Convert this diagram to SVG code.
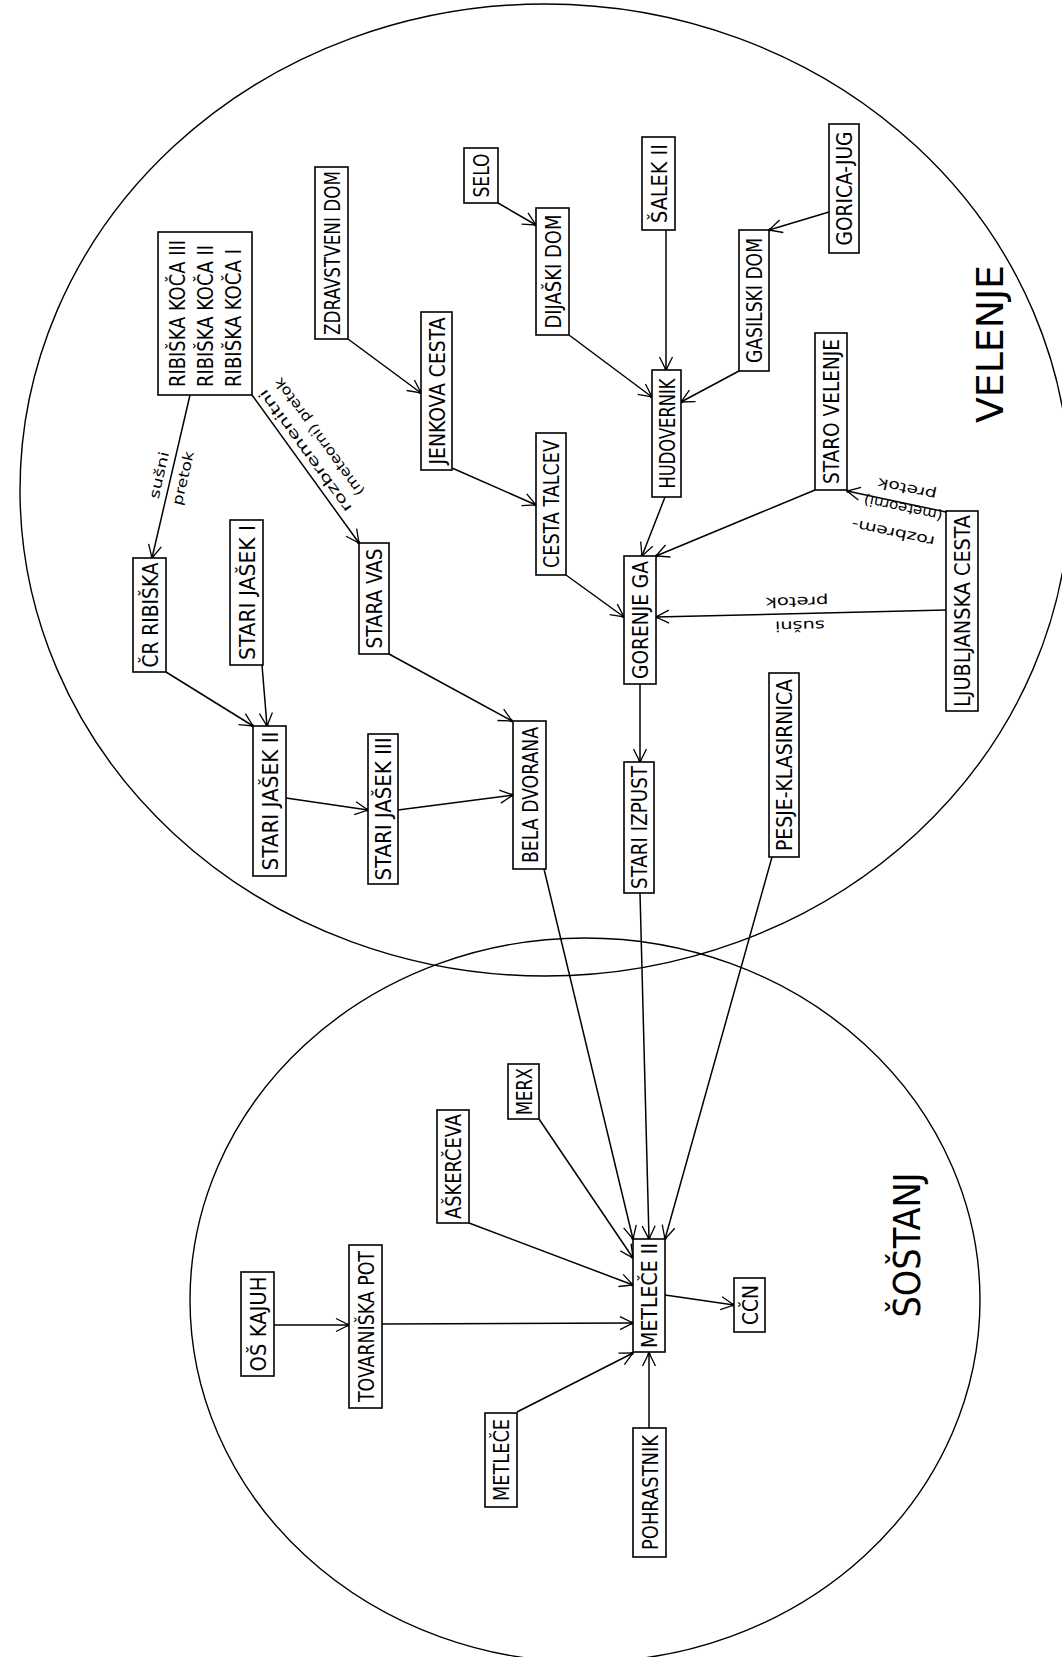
<svg xmlns="http://www.w3.org/2000/svg" width="1062" height="1657" viewBox="0 0 1062 1657">
<style>
.bg{fill:#fff}
.reg{fill:none;stroke:#000;stroke-width:1.4}
.box{fill:#fff;stroke:#000;stroke-width:1.6}
.t{font-family:"DejaVu Sans Condensed","Liberation Sans Narrow","Liberation Sans",sans-serif;font-size:21px;fill:#000}
.big{font-family:"DejaVu Sans Condensed","Liberation Sans Narrow","Liberation Sans",sans-serif;font-size:38px;fill:#000}
.s{font-family:"DejaVu Sans Condensed","Liberation Sans Narrow","Liberation Sans",sans-serif;font-size:14px;fill:#000}
.e{fill:none;stroke:#000;stroke-width:1.5;marker-end:url(#arr)}
</style>
<defs>
<marker id="arr" viewBox="-16 -9 18 18" refX="0" refY="0" markerWidth="18" markerHeight="18" orient="auto" markerUnits="userSpaceOnUse">
<path d="M-13,-6.5 L0,0 L-13,6.5" fill="none" stroke="#000" stroke-width="1.3"/>
<circle cx="-1" cy="0" r="1.6" fill="#000"/>
</marker>
</defs>
<rect class="bg" x="0" y="0" width="1062" height="1657"/>
<g id="regions">
<ellipse id="velenje-area" class="reg" cx="545" cy="490" rx="525" ry="486"/>
<ellipse id="sostanj-area" class="reg" cx="585" cy="1300" rx="395" ry="362"/>
<text class="big" transform="translate(1003,344) rotate(-90)" text-anchor="middle" textLength="158" lengthAdjust="spacingAndGlyphs">VELENJE</text>
<text class="big" transform="translate(920,1245) rotate(-90)" text-anchor="middle" textLength="145" lengthAdjust="spacingAndGlyphs">ŠOŠTANJ</text>
</g>
<g id="connectors">
<line class="e" x1="190" y1="395" x2="152" y2="558"/>
<line class="e" x1="252" y1="395" x2="359" y2="543"/>
<line class="e" x1="348" y1="339" x2="421" y2="393"/>
<line class="e" x1="452" y1="468" x2="536" y2="505"/>
<line class="e" x1="498" y1="203" x2="536" y2="225"/>
<line class="e" x1="569" y1="335" x2="652" y2="397"/>
<line class="e" x1="666" y1="230" x2="666" y2="370"/>
<line class="e" x1="739" y1="371" x2="681" y2="402"/>
<line class="e" x1="829" y1="212" x2="769" y2="230"/>
<line class="e" x1="665" y1="497" x2="642" y2="556"/>
<line class="e" x1="566" y1="575" x2="624" y2="617"/>
<line class="e" x1="815" y1="490" x2="656" y2="556"/>
<line class="e" x1="946" y1="610" x2="656" y2="617"/>
<line class="e" x1="946" y1="512" x2="847" y2="491"/>
<line class="e" x1="640" y1="684" x2="640" y2="762"/>
<line class="e" x1="166" y1="672" x2="253" y2="726"/>
<line class="e" x1="262" y1="665" x2="267" y2="726"/>
<line class="e" x1="286" y1="798" x2="368" y2="810"/>
<line class="e" x1="398" y1="810" x2="513" y2="795"/>
<line class="e" x1="389" y1="654" x2="512" y2="721"/>
<line class="e" x1="544" y1="869" x2="633" y2="1239"/>
<line class="e" x1="640" y1="893" x2="649" y2="1239"/>
<line class="e" x1="772" y1="857" x2="665" y2="1239"/>
<line class="e" x1="539" y1="1119" x2="633" y2="1258"/>
<line class="e" x1="469" y1="1223" x2="633" y2="1285"/>
<line class="e" x1="382" y1="1324" x2="633" y2="1323"/>
<line class="e" x1="274" y1="1325" x2="349" y2="1325"/>
<line class="e" x1="517" y1="1412" x2="633" y2="1353"/>
<line class="e" x1="649" y1="1428" x2="649" y2="1353"/>
<line class="e" x1="665" y1="1295" x2="734" y2="1305"/>
<text class="s" transform="translate(159,475) rotate(-77)" text-anchor="middle" dy="0.35em" textLength="48" lengthAdjust="spacingAndGlyphs">sušni</text>
<text class="s" transform="translate(183,478) rotate(-77)" text-anchor="middle" dy="0.35em" textLength="55" lengthAdjust="spacingAndGlyphs">pretok</text>
<text class="s" transform="translate(305,451) rotate(-126)" text-anchor="middle" dy="0.35em" textLength="148" lengthAdjust="spacingAndGlyphs">rozbremenitni</text>
<text class="s" transform="translate(319,437) rotate(-126)" text-anchor="middle" dy="0.35em" textLength="142" lengthAdjust="spacingAndGlyphs">(meteorni) pretok</text>
<text class="s" transform="translate(907,489) rotate(-168)" text-anchor="middle" dy="0.35em" textLength="60" lengthAdjust="spacingAndGlyphs">pretok</text>
<text class="s" transform="translate(903,508) rotate(-168)" text-anchor="middle" dy="0.35em" textLength="80" lengthAdjust="spacingAndGlyphs">(meteorni)</text>
<text class="s" transform="translate(893,533) rotate(-168)" text-anchor="middle" dy="0.35em" textLength="85" lengthAdjust="spacingAndGlyphs">rozbrem-</text>
<text class="s" transform="translate(797,602) rotate(178.6)" text-anchor="middle" dy="0.35em" textLength="63" lengthAdjust="spacingAndGlyphs">pretok</text>
<text class="s" transform="translate(800,626) rotate(178.6)" text-anchor="middle" dy="0.35em" textLength="50" lengthAdjust="spacingAndGlyphs">sušni</text>
</g>
<g id="n-ribiska-koca"><rect class="box" x="158" y="232" width="94" height="163"/>
<text class="t" transform="translate(185,387) rotate(-90)" textLength="147" lengthAdjust="spacingAndGlyphs">RIBIŠKA KOČA III</text>
<text class="t" transform="translate(213,387) rotate(-90)" textLength="142" lengthAdjust="spacingAndGlyphs">RIBIŠKA KOČA II</text>
<text class="t" transform="translate(241,387) rotate(-90)" textLength="138" lengthAdjust="spacingAndGlyphs">RIBIŠKA KOČA I</text></g>
<g id="n-zdravstveni-dom"><rect class="box" x="315" y="167" width="33" height="172"/><text class="t" transform="translate(339.5,253) rotate(-90)" text-anchor="middle" textLength="164" lengthAdjust="spacingAndGlyphs">ZDRAVSTVENI DOM</text></g>
<g id="n-jenkova-cesta"><rect class="box" x="421" y="312" width="31" height="158"/><text class="t" transform="translate(444.5,391) rotate(-90)" text-anchor="middle" textLength="147" lengthAdjust="spacingAndGlyphs">JENKOVA CESTA</text></g>
<g id="n-selo"><rect class="box" x="464" y="148" width="34" height="55"/><text class="t" transform="translate(489,175.5) rotate(-90)" text-anchor="middle" textLength="44" lengthAdjust="spacingAndGlyphs">SELO</text></g>
<g id="n-dijaski-dom"><rect class="box" x="536" y="208" width="33" height="127"/><text class="t" transform="translate(560.5,271.5) rotate(-90)" text-anchor="middle" textLength="114" lengthAdjust="spacingAndGlyphs">DIJAŠKI DOM</text></g>
<g id="n-salek-ii"><rect class="box" x="642" y="137" width="33" height="93"/><text class="t" transform="translate(666.5,183.5) rotate(-90)" text-anchor="middle" textLength="79" lengthAdjust="spacingAndGlyphs">ŠALEK II</text></g>
<g id="n-hudovernik"><rect class="box" x="652" y="370" width="29" height="127"/><text class="t" transform="translate(674.5,433.5) rotate(-90)" text-anchor="middle" textLength="110" lengthAdjust="spacingAndGlyphs">HUDOVERNIK</text></g>
<g id="n-cesta-talcev"><rect class="box" x="536" y="433" width="30" height="142"/><text class="t" transform="translate(559,504) rotate(-90)" text-anchor="middle" textLength="128" lengthAdjust="spacingAndGlyphs">CESTA TALCEV</text></g>
<g id="n-gorica-jug"><rect class="box" x="829" y="124" width="30" height="129"/><text class="t" transform="translate(852,188.5) rotate(-90)" text-anchor="middle" textLength="114" lengthAdjust="spacingAndGlyphs">GORICA-JUG</text></g>
<g id="n-gasilski-dom"><rect class="box" x="739" y="230" width="30" height="141"/><text class="t" transform="translate(762,300.5) rotate(-90)" text-anchor="middle" textLength="125" lengthAdjust="spacingAndGlyphs">GASILSKI DOM</text></g>
<g id="n-staro-velenje"><rect class="box" x="815" y="333" width="32" height="157"/><text class="t" transform="translate(839,411.5) rotate(-90)" text-anchor="middle" textLength="145" lengthAdjust="spacingAndGlyphs">STARO VELENJE</text></g>
<g id="n-cr-ribiska"><rect class="box" x="133" y="558" width="33" height="114"/><text class="t" transform="translate(157.5,615) rotate(-90)" text-anchor="middle" textLength="105" lengthAdjust="spacingAndGlyphs">ČR RIBIŠKA</text></g>
<g id="n-stari-jasek-i"><rect class="box" x="230" y="520" width="33" height="145"/><text class="t" transform="translate(254.5,592.5) rotate(-90)" text-anchor="middle" textLength="135" lengthAdjust="spacingAndGlyphs">STARI JAŠEK I</text></g>
<g id="n-stara-vas"><rect class="box" x="359" y="543" width="30" height="111"/><text class="t" transform="translate(382,598.5) rotate(-90)" text-anchor="middle" textLength="100" lengthAdjust="spacingAndGlyphs">STARA VAS</text></g>
<g id="n-stari-jasek-ii"><rect class="box" x="253" y="726" width="33" height="150"/><text class="t" transform="translate(277.5,801) rotate(-90)" text-anchor="middle" textLength="139" lengthAdjust="spacingAndGlyphs">STARI JAŠEK II</text></g>
<g id="n-stari-jasek-iii"><rect class="box" x="368" y="734" width="30" height="150"/><text class="t" transform="translate(391,809) rotate(-90)" text-anchor="middle" textLength="143" lengthAdjust="spacingAndGlyphs">STARI JAŠEK III</text></g>
<g id="n-gorenje-ga"><rect class="box" x="624" y="556" width="32" height="128"/><text class="t" transform="translate(648,620) rotate(-90)" text-anchor="middle" textLength="118" lengthAdjust="spacingAndGlyphs">GORENJE GA</text></g>
<g id="n-bela-dvorana"><rect class="box" x="513" y="721" width="33" height="148"/><text class="t" transform="translate(537.5,795) rotate(-90)" text-anchor="middle" textLength="136" lengthAdjust="spacingAndGlyphs">BELA DVORANA</text></g>
<g id="n-stari-izpust"><rect class="box" x="624" y="762" width="30" height="131"/><text class="t" transform="translate(647,827.5) rotate(-90)" text-anchor="middle" textLength="123" lengthAdjust="spacingAndGlyphs">STARI IZPUST</text></g>
<g id="n-pesje-klasirnica"><rect class="box" x="769" y="673" width="30" height="184"/><text class="t" transform="translate(792,765) rotate(-90)" text-anchor="middle" textLength="172" lengthAdjust="spacingAndGlyphs">PESJE-KLASIRNICA</text></g>
<g id="n-ljubljanska-cesta"><rect class="box" x="946" y="511" width="32" height="200"/><text class="t" transform="translate(970,611) rotate(-90)" text-anchor="middle" textLength="192" lengthAdjust="spacingAndGlyphs">LJUBLJANSKA CESTA</text></g>
<g id="n-askerceva"><rect class="box" x="437" y="1110" width="32" height="113"/><text class="t" transform="translate(461,1166.5) rotate(-90)" text-anchor="middle" textLength="105" lengthAdjust="spacingAndGlyphs">AŠKERČEVA</text></g>
<g id="n-os-kajuh"><rect class="box" x="241" y="1272" width="33" height="104"/><text class="t" transform="translate(265.5,1324) rotate(-90)" text-anchor="middle" textLength="95" lengthAdjust="spacingAndGlyphs">OŠ KAJUH</text></g>
<g id="n-tovarniska-pot"><rect class="box" x="349" y="1245" width="33" height="163"/><text class="t" transform="translate(373.5,1326.5) rotate(-90)" text-anchor="middle" textLength="151" lengthAdjust="spacingAndGlyphs">TOVARNIŠKA POT</text></g>
<g id="n-merx"><rect class="box" x="508" y="1064" width="31" height="55"/><text class="t" transform="translate(531.5,1091.5) rotate(-90)" text-anchor="middle" textLength="47" lengthAdjust="spacingAndGlyphs">MERX</text></g>
<g id="n-metlece-ii"><rect class="box" x="633" y="1239" width="32" height="113"/><text class="t" transform="translate(657,1295.5) rotate(-90)" text-anchor="middle" textLength="105" lengthAdjust="spacingAndGlyphs">METLEČE II</text></g>
<g id="n-ccn"><rect class="box" x="734" y="1278" width="31" height="54"/><text class="t" transform="translate(757.5,1305) rotate(-90)" text-anchor="middle" textLength="40" lengthAdjust="spacingAndGlyphs">CČN</text></g>
<g id="n-metlece"><rect class="box" x="485" y="1413" width="32" height="94"/><text class="t" transform="translate(509,1460) rotate(-90)" text-anchor="middle" textLength="82" lengthAdjust="spacingAndGlyphs">METLEČE</text></g>
<g id="n-pohrastnik"><rect class="box" x="633" y="1428" width="33" height="129"/><text class="t" transform="translate(657.5,1492.5) rotate(-90)" text-anchor="middle" textLength="115" lengthAdjust="spacingAndGlyphs">POHRASTNIK</text></g>
</svg>
